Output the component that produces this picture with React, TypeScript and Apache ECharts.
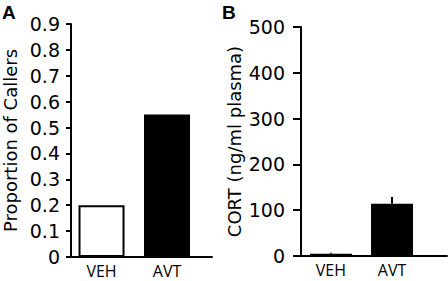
import React, { useEffect, useRef } from "react";
import * as echarts from "echarts";

const categories = ["VEH", "AVT"];
const callerProportion = [0.2, 0.55];
const cortMean = [5, 114];
const cortError = [2, 15];
const callerAxis = { min: 0, max: 0.9, interval: 0.1 };
const cortAxis = { min: 0, max: 500, interval: 100 };
const panelLetters = ["A", "B"];
const callerName = "Proportion of Callers";
const cortName = "CORT (ng/ml plasma)";

const tickFont = "DejaVu Sans";
const catFont = "Open Sans";

export default function App() {
  const ref = useRef<HTMLDivElement>(null);
  useEffect(() => {
    if (!ref.current) return;
    const chart = echarts.init(ref.current, null, { renderer: "svg" });
    const catIdx = categories.map((_, i) => i);
    const xAxisBase = (min: number, max: number, idx: number) => ({
      type: "value",
      gridIndex: idx,
      min,
      max,
      splitLine: { show: false },
      axisTick: { show: false },
      axisLine: { show: true, onZero: false, lineStyle: { color: "#000", width: 2 } },
      axisLabel: {
        customValues: catIdx,
        formatter: (v: number) => categories[Math.round(v)] ?? "",
        color: "#000",
        fontFamily: catFont,
        fontSize: 16,
        margin: 6,
      },
    });
    const yAxisBase = (cfg: any, idx: number, name: string, gap: number, margin: number, tickLen: number) => ({
      type: "value",
      gridIndex: idx,
      min: cfg.min,
      max: cfg.max,
      interval: cfg.interval,
      name,
      nameLocation: "middle",
      nameGap: gap,
      nameTextStyle: { color: "#000", fontFamily: tickFont, fontSize: 18 },
      splitLine: { show: false },
      axisLine: { show: true, onZero: false, lineStyle: { color: "#000", width: 2 } },
      axisTick: { show: true, length: tickLen, lineStyle: { color: "#000", width: 2 } },
      axisLabel: { color: "#000", fontFamily: tickFont, fontSize: 19, margin },
    });
    chart.setOption({
      animation: false,
      backgroundColor: "#fff",
      grid: [
        { left: 71, top: 24, width: 141, height: 233 },
        { left: 301, top: 27, width: 146, height: 229 },
      ],
      xAxis: [xAxisBase(-0.466, 1.687, 0), xAxisBase(-0.49, 1.9, 1)],
      yAxis: [
        yAxisBase(callerAxis, 0, callerName, 52, 11, 5),
        yAxisBase(cortAxis, 1, cortName, 58, 16, 8),
      ],
      graphic: [
        {
          type: "text",
          left: 2,
          top: 3,
          style: { text: panelLetters[0], font: "bold 19px 'Liberation Sans', Arial", fill: "#000" },
        },
        {
          type: "text",
          left: 222,
          top: 3,
          style: { text: panelLetters[1], font: "bold 19px 'Liberation Sans', Arial", fill: "#000" },
        },
      ],
      series: [
        {
          type: "bar",
          xAxisIndex: 0,
          yAxisIndex: 0,
          barWidth: 46,
          data: callerProportion.map((v, i) => ({
            value: [i, v],
            itemStyle:
              i === 0
                ? { color: "#fff", borderColor: "#000", borderWidth: 2 }
                : { color: "#000" },
          })),
        },
        {
          type: "bar",
          xAxisIndex: 1,
          yAxisIndex: 1,
          barWidth: 42,
          itemStyle: { color: "#000" },
          data: cortMean.map((v, i) => [i, v]),
        },
        {
          type: "custom",
          xAxisIndex: 1,
          yAxisIndex: 1,
          z: 3,
          encode: { x: 0, y: 1 },
          data: cortMean.map((v, i) => [i, v, cortError[i]]),
          renderItem: (params: any, api: any) => {
            const x = api.value(0);
            const m = api.value(1);
            const e = api.value(2);
            const top = api.coord([x, m + e]);
            const base = api.coord([x, m]);
            return {
              type: "line",
              shape: { x1: top[0], y1: top[1], x2: base[0], y2: base[1] },
              style: { stroke: "#000", lineWidth: 2 },
            };
          },
        },
      ],
    });
    return () => chart.dispose();
  }, []);
  return (
    <div
      ref={ref}
      style={{ position: "fixed", left: 0, top: 0, width: 448, height: 281 }}
    />
  );
}
